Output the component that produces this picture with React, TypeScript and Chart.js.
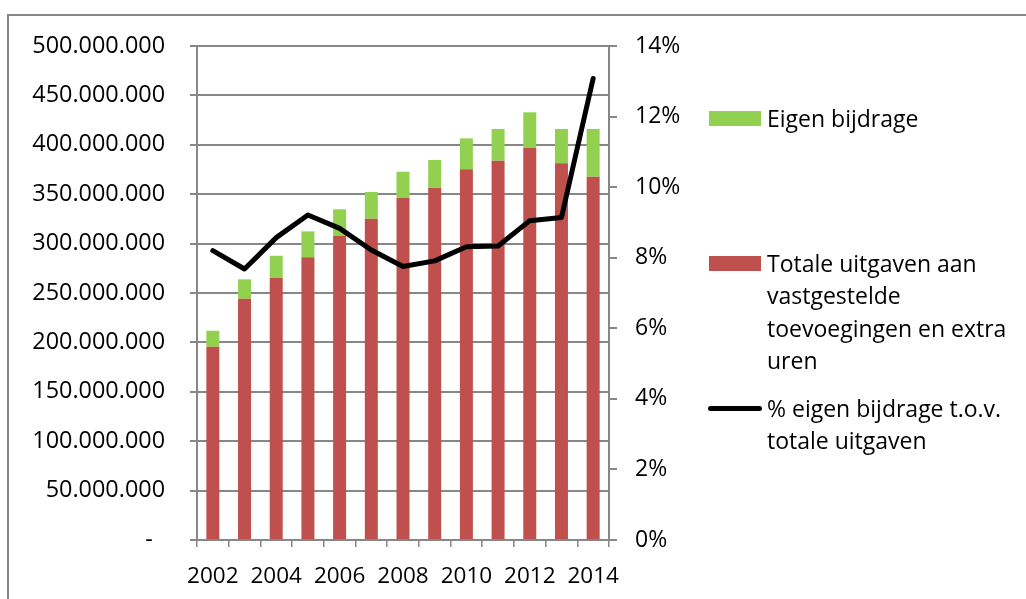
import React, { useEffect, useRef } from "react";
import { Chart, registerables } from "chart.js";

Chart.register(...registerables);

const years = ["2002", "2003", "2004", "2005", "2006", "2007", "2008", "2009", "2010", "2011", "2012", "2013", "2014"];
const totaleUitgaven = [195.6, 244.2, 265.2, 286.1, 307.7, 325.2, 346.1, 356.6, 375.2, 383.9, 396.7, 381.2, 367.7].map((v) => v * 1e6);
const eigenBijdrage = [16.2, 19.6, 22.5, 26.3, 27.0, 27.0, 26.7, 28.0, 31.3, 32.1, 36.2, 34.8, 48.3].map((v) => v * 1e6);
const pctEigen = [0.082, 0.0768, 0.0857, 0.0921, 0.0883, 0.0822, 0.0775, 0.0791, 0.0831, 0.0833, 0.0905, 0.0914, 0.1308];

const FONT = "'Open Sans', sans-serif";
const GRID = "#878787";

function fmtNum(v: number): string {
  if (v === 0) return "-\u00a0\u00a0";
  return String(Math.round(v)).replace(/\B(?=(\d{3})+(?!\d))/g, ".");
}

export default function App() {
  const ref = useRef<HTMLCanvasElement | null>(null);

  useEffect(() => {
    if (!ref.current) return;
    const chart = new Chart(ref.current, {
      type: "bar",
      data: {
        labels: years,
        datasets: [
          {
            type: "line",
            label: "% eigen bijdrage t.o.v. totale uitgaven",
            data: pctEigen,
            yAxisID: "y1",
            borderColor: "#000000",
            borderWidth: 5,
            pointRadius: 0,
            tension: 0,
            order: 0,
            borderCapStyle: "round",
            borderJoinStyle: "round",
          } as any,
          {
            label: "Totale uitgaven aan vastgestelde toevoegingen en extra uren",
            data: totaleUitgaven,
            backgroundColor: "#C0504D",
            yAxisID: "y",
            stack: "s",
            order: 1,
            categoryPercentage: 1,
            barPercentage: 0.41,
          },
          {
            label: "Eigen bijdrage",
            data: eigenBijdrage,
            backgroundColor: "#92D050",
            yAxisID: "y",
            stack: "s",
            order: 1,
            categoryPercentage: 1,
            barPercentage: 0.41,
          },
        ],
      },
      options: {
        responsive: false,
        animation: false,
        devicePixelRatio: 1,
        layout: { padding: { top: 46, left: 0, right: 0, bottom: 0 } },
        plugins: { legend: { display: false }, tooltip: { enabled: false } },
        scales: {
          x: {
            stacked: true,
            offset: true,
            grid: {
              offset: true,
              drawOnChartArea: false,
              drawTicks: true,
              tickLength: 7,
              color: GRID,
              lineWidth: 1.5,
            },
            border: { display: true, color: GRID, width: 2 },
            ticks: {
              autoSkip: false,
              maxRotation: 0,
              minRotation: 0,
              padding: 16,
              color: "#000",
              font: { family: FONT, size: 22.5 },
              callback: (_v: any, i: number) => (i % 2 === 0 ? years[i] : ""),
            },
            afterFit: (s: any) => {
              s.height = 59;
            },
          },
          y: {
            position: "left",
            stacked: true,
            min: 0,
            max: 500000000,
            ticks: {
              stepSize: 50000000,
              padding: 25,
              color: "#000",
              font: { family: FONT, size: 23.4 },
              callback: (v: any) => fmtNum(Number(v)),
            },
            grid: { color: GRID, lineWidth: 2, tickLength: 7, drawTicks: true },
            border: { display: true, color: GRID, width: 2 },
            afterFit: (s: any) => {
              s.width = 197;
            },
          },
          y1: {
            position: "right",
            min: 0,
            max: 0.14,
            ticks: {
              stepSize: 0.02,
              padding: 18,
              color: "#000",
              font: { family: FONT, size: 23 },
              callback: (v: any) => Math.round(Number(v) * 100) + "%",
            },
            grid: { drawOnChartArea: false, color: GRID, lineWidth: 2, tickLength: 8, drawTicks: true },
            border: { display: true, color: GRID, width: 2 },
            afterFit: (s: any) => {
              s.width = 417;
            },
          },
        },
      },
    });
    return () => chart.destroy();
  }, []);

  const textStyle: React.CSSProperties = {
    position: "absolute",
    left: 767,
    fontFamily: FONT,
    fontSize: 23,
    lineHeight: "32.4px",
    color: "#000",
    whiteSpace: "nowrap",
  };

  return (
    <div style={{ position: "fixed", left: 0, top: 0, width: 1026, height: 599, overflow: "hidden", background: "#fff" }}>
      <div
        style={{
          position: "absolute",
          left: 7,
          top: 14,
          width: 1200,
          height: 800,
          border: "2px solid #878787",
        }}
      />
      <canvas ref={ref} width={1026} height={599} style={{ position: "absolute", left: 0, top: 0, width: 1026, height: 599 }} />
      <div style={{ position: "absolute", left: 709, top: 111, width: 52, height: 15, background: "#92D050" }} />
      <div style={{ ...textStyle, top: 118 - 16.2 }}>Eigen bijdrage</div>
      <div style={{ position: "absolute", left: 709, top: 256, width: 52, height: 15, background: "#C0504D" }} />
      <div style={{ ...textStyle, top: 263 - 16.2 }}>
        Totale uitgaven aan
        <br />
        vastgestelde
        <br />
        toevoegingen en extra
        <br />
        uren
      </div>
      <div style={{ position: "absolute", left: 708, top: 405.5, width: 54, height: 5, borderRadius: 3, background: "#000" }} />
      <div style={{ ...textStyle, top: 408 - 16.2 }}>
        % eigen bijdrage t.o.v.
        <br />
        totale uitgaven
      </div>
    </div>
  );
}
